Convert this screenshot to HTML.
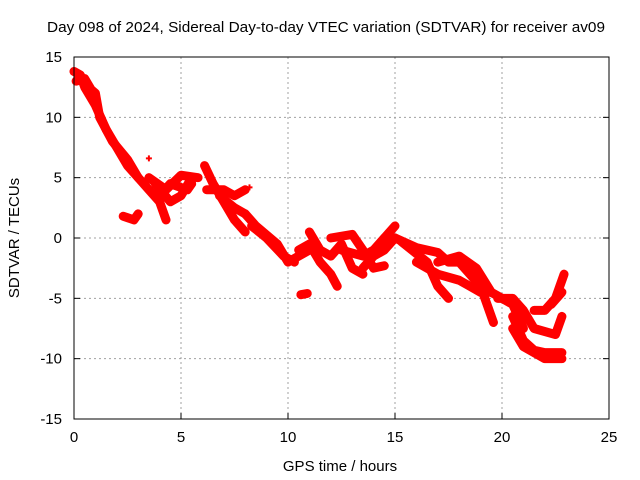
<!DOCTYPE html>
<html><head><meta charset="utf-8"><style>
body{margin:0;background:#fff;}
svg{display:block;font-family:"Liberation Sans",sans-serif;}
</style></head><body>
<svg id="chart" width="640" height="480">
<rect width="640" height="480" fill="#fff"/>
<text x="326" y="32" font-size="15" text-anchor="middle" textLength="558" lengthAdjust="spacingAndGlyphs">Day 098 of 2024, Sidereal Day-to-day VTEC variation (SDTVAR) for receiver av09</text>
<text x="0" y="0" transform="translate(19,238) rotate(-90)" font-size="15" text-anchor="middle">SDTVAR / TECUs</text>
<text x="340" y="471" font-size="15" text-anchor="middle">GPS time / hours</text>
<g id="grid"></g>
<g id="marks"></g>
<rect x="74" y="57" width="535" height="362" fill="none" stroke="#000" stroke-width="1"/>
<g id="ticks"></g>
</svg>
<script>
const xTicks=[0,5,10,15,20,25];
const yTicks=[-15,-10,-5,0,5,10,15];
const tracks=[
[[0,13.8],[0.3,13.5],[0.5,12.5],[1,11],[1.5,9],[2,7.5],[2.5,6],[3,5],[3.5,4],[4,3],[4.3,1.5]],
[[0.1,13],[0.5,13.2],[0.8,12.3],[1,12],[1.2,10],[1.8,8],[2.5,6.5],[3,5]],
[[2.3,1.8],[2.8,1.5],[3,2]],
[[3.8,4.5],[4.5,3],[5,3.5],[5.5,5]],
[[3.5,5],[4.3,4],[5,5.2],[5.8,5]],
[[4,3.5],[4.5,4.5],[5.3,4.0],[5.5,4.5]],
[[6.1,6],[6.5,4.5],[7,3],[7.5,1.5],[8,0.5]],
[[6.2,4],[7,4],[7.5,3.5],[8,4]],
[[6.8,3.5],[7.5,2.5],[8,2]],
[[8,2],[8.5,1],[9.5,-0.5],[10,-2],[10.5,-1.5],[11,-1]],
[[8.3,1],[9,0],[9.8,-1.5],[10.3,-2]],
[[10.6,-4.7],[10.9,-4.6]],
[[10.5,-1],[11,-0.5],[11.5,-2],[12,-3],[12.3,-4]],
[[11,0.5],[11.5,-1],[12,-1.5],[12.5,-0.5],[13,-2.5],[13.5,-3]],
[[12,0],[13,0.3],[13.5,-1],[14,-2.5],[14.5,-2.3]],
[[12.5,-1],[13.5,-1.5],[14,-1],[14.5,0],[15,1]],
[[13.5,-2.5],[14,-1.5],[14.5,-1],[15,0]],
[[15,0],[16,-0.8],[17,-1.2],[17.5,-2],[18,-2],[19,-4],[19.6,-7]],
[[15.3,-0.3],[16.5,-2],[17,-4],[17.5,-5]],
[[16,-2],[17,-3],[18,-3.5],[18.5,-4],[19,-4.5],[19.5,-4.5]],
[[17,-2],[18,-1.5],[18.8,-2.5],[19.5,-4.5],[20,-5],[20.5,-5.5],[21,-7.5]],
[[19.8,-5],[20.5,-5],[21,-6],[21.5,-7.5],[22.5,-8],[22.8,-6.5]],
[[20.5,-6.5],[21,-8.5],[21.5,-9.3],[22,-9.5],[22.8,-9.5]],
[[20.5,-7.5],[21,-9],[22,-10],[22.8,-10]],
[[21.5,-6],[22,-6],[22.5,-5],[22.9,-3]],
[[22.3,-5.5],[22.8,-4.5]]
];
const isolated=[[3.5,6.6],[8.2,4.2]];
const X0=74,X1=609,Y0=419,Y1=57;
function sx(v){return X0+(v-0)/(25-0)*(X1-X0);}
function sy(v){return Y0-(v+15)/(30)*(Y0-Y1);}
const NS="http://www.w3.org/2000/svg";
function mk(t,a,p){const e=document.createElementNS(NS,t);for(const k in a)e.setAttribute(k,a[k]);p.appendChild(e);return e;}
const grid=document.getElementById('grid'),ticks=document.getElementById('ticks'),marks=document.getElementById('marks');
xTicks.forEach(t=>{const x=sx(t);
 if(t>0&&t<25){const l=mk('line',{x1:x,x2:x,y1:Y1,y2:Y0,stroke:'#a0a0a0','stroke-dasharray':'2,3'},grid);
 
 }
 const tk=mk('line',{x1:x,x2:x,y1:Y0,y2:Y0-6,stroke:'#000'},ticks);
 
 
 const tx=mk('text',{x:x,y:442,'font-size':15,'text-anchor':'middle'},ticks);tx.textContent=t;
 
 
});
yTicks.forEach(t=>{const y=sy(t);
 if(t>-15&&t<15){const l=mk('line',{x1:X0,x2:X1,y1:y,y2:y,stroke:'#a0a0a0','stroke-dasharray':'2,3'},grid);
 
 }
 const tk=mk('line',{x1:X0,x2:X0+6,y1:y,y2:y,stroke:'#000'},ticks);
 
 
 const tk2=mk('line',{x1:X1,x2:X1-6,y1:y,y2:y,stroke:'#000'},ticks);
 
 
 const tx=mk('text',{x:62,y:y+5,'font-size':15,'text-anchor':'end'},ticks);tx.textContent=t;
 
 
});
tracks.forEach(tr=>{
 const p=mk('polyline',{points:tr.map(d=>sx(d[0])+','+sy(d[1])).join(' '),fill:'none',stroke:'#ff0000','stroke-width':9,'stroke-linejoin':'round','stroke-linecap':'round'},marks);
 
 
});
isolated.forEach(d=>{
 const x=sx(d[0]),y=sy(d[1]);
 const p=mk('path',{d:`M${x-3},${y}H${x+3}M${x},${y-3}V${y+3}`,stroke:'#ff0000','stroke-width':2},marks);
 
 
});
</script>
</body></html>
